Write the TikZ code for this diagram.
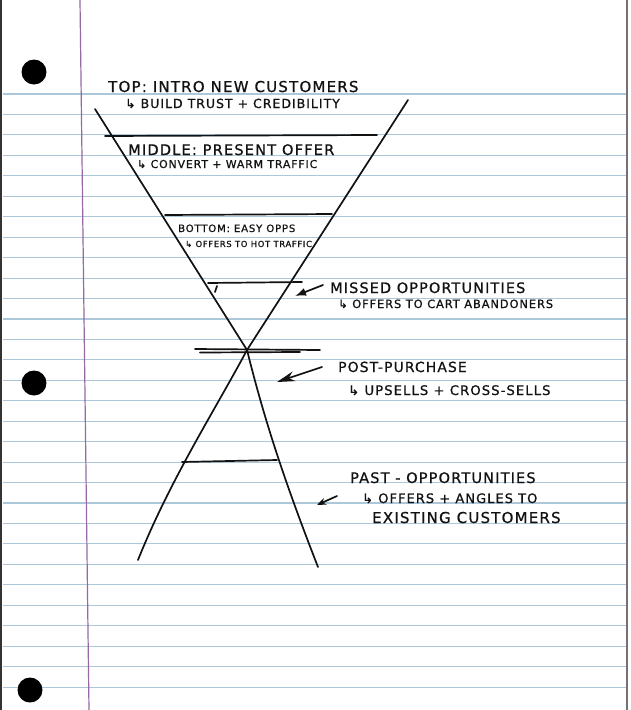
\documentclass[tikz,border=0pt]{standalone}
\usepackage{fontspec}
\usepackage{xcolor}
\newfontfamily\hand[LetterSpace=8, FakeBold=0.8]{DejaVu Sans}
\usetikzlibrary{arrows.meta}
\definecolor{ruleBlue}{RGB}{172,198,218}
\definecolor{marginPurple}{RGB}{150,105,165}
\definecolor{penBlack}{RGB}{18,18,18}

\begin{document}
\begin{tikzpicture}[x=1pt, y=-1pt,
  pen/.style={draw=penBlack, line width=1.7pt, line cap=round},
  note/.style={anchor=base west, inner sep=0pt, text=penBlack,
               font=\hand\fontsize{#1}{#1}\selectfont},
]
  \useasboundingbox (0,0) rectangle (630,710);
  % the ruled sheet
  \fill[white] (0,0) rectangle (630,710);
  \foreach \k in {0,...,29}
    \draw[ruleBlue, line width=1.1pt] (3,{94+20.45*\k}) -- (626,{94+20.45*\k});
  \draw[marginPurple, line width=1.2pt] (80,0) -- (89,710);
  \draw[black!80, line width=2.5pt] (1,0) -- (1,710);
  \draw[black!55, line width=1.5pt] (627,0) -- (627,710);
  \foreach \hx/\hy in {34/72, 34/383, 30/690}
    \fill[black] (\hx,\hy) circle (12.5);

  % hourglass
  \coordinate (topL) at (95,109);
  \coordinate (topR) at (408,100);
  \coordinate (waist) at (247,350);
  \coordinate (baseL) at (138,560);
  \coordinate (baseR) at (318,567);
  \draw[pen] (topL) -- (waist);
  \draw[pen] (topR) -- (waist);
  \draw[pen] (waist) .. controls (215,410) and (170,480) .. (baseL);
  \draw[pen] (waist) .. controls (262,410) and (280,470) .. (baseR);

  \draw[pen] (105,136) -- (377,135);
  \draw[pen] (165,215) -- (332,214);
  \draw[pen] (208,283) -- (302,282);
  \draw[pen] (217,286) -- (215,292);
  \draw[pen] (195,349) -- (320,350);
  \draw[pen] (200,352.5) -- (300,352);
  \draw[pen] (182,462) -- (277,460);

  % labels
  \node[note=15] (top) at (108,92) {TOP: INTRO NEW CUSTOMERS};
  \node[note=12.5] (topSub) at (125,108) {↳ BUILD TRUST + CREDIBILITY};
  \node[note=14.6] (mid) at (128,155) {MIDDLE: PRESENT OFFER};
  \node[note=10.9] (midSub) at (137,168) {↳ CONVERT + WARM TRAFFIC};
  \node[note=10.1] (bot) at (178,232) {BOTTOM: EASY OPPS};
  \node[note=8.4] (botSub) at (185,247) {↳ OFFERS TO HOT TRAFFIC};
  \node[note=14.4] (missed) at (330,293) {MISSED OPPORTUNITIES};
  \node[note=11.4] (missedSub) at (338,308) {↳ OFFERS TO CART ABANDONERS};
  \node[note=13.9] (post) at (338,372) {POST-PURCHASE};
  \node[note=13.2] (postSub) at (348,395) {↳ UPSELLS + CROSS-SELLS};
  \node[note=14.5] (past) at (350,483) {PAST - OPPORTUNITIES};
  \node[note=13] (pastSub) at (362,503) {↳ OFFERS + ANGLES TO};
  \node[note=15] (pastSub2) at (372,523) {EXISTING CUSTOMERS};

  % pointers
  \coordinate (missTail) at (323,285);
  \coordinate (missTip) at (295,296);
  \coordinate (postTail) at (322,367);
  \coordinate (postTip) at (277,382);
  \coordinate (pastTail) at (337,496);
  \coordinate (pastTip) at (317,505);
  \draw[pen, -{Latex[length=11pt, width=8pt]}] (missTail) -- (missTip);
  \draw[pen, -{Stealth[length=18pt, width=10pt]}] (postTail) -- (postTip);
  \draw[pen, -{Stealth[length=9pt, width=7pt, open]}] (pastTail) -- (pastTip);
\end{tikzpicture}
\end{document}
